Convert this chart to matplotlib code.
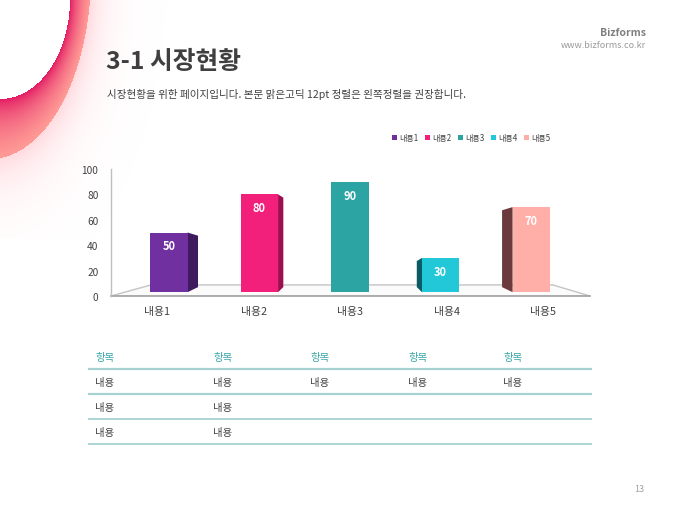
import numpy as np
import matplotlib
matplotlib.use("Agg")
import matplotlib.pyplot as plt
from matplotlib.patches import Polygon, Patch

plt.rcParams['font.family'] = ['Noto Sans CJK KR', 'DejaVu Sans']

# chart data
categories = ["내용1", "내용2", "내용3", "내용4", "내용5"]
values = [50, 80, 90, 30, 70]
front_colors = ["#7030A0", "#F21F7B", "#2CA4A4", "#22C8D8", "#FFAFA8"]
side_colors = ["#3E1A5E", "#9C0F4E", "#1E7E7E", "#0A5B63", "#6A3A3C"]
y_ticks = [0, 20, 40, 60, 80, 100]

# table data
table_header = ["항목", "항목", "항목", "항목", "항목"]
table_rows = [
    ["내용", "내용", "내용", "내용", "내용"],
    ["내용", "내용", "", "", ""],
    ["내용", "내용", "", "", ""],
]

title = "3-1 시장현황"
subtitle = "시장현황을 위한 페이지입니다. 본문 맑은고딕 12pt 정렬은 왼쪽정렬을 권장합니다."

fig = plt.figure(figsize=(6.8, 5.1), dpi=100)
fig.patch.set_facecolor("white")

# background layer in pixel coordinates
bg = fig.add_axes([0, 0, 1, 1])
bg.set_xlim(0, 680)
bg.set_ylim(510, 0)
bg.axis("off")

# pink swoosh in the top-left corner
W, H = 200, 240
xx, yy = np.meshgrid(np.arange(W) + 0.5, np.arange(H) + 0.5)
r_in = np.sqrt((xx / 70.0) ** 2 + (yy / 100.0) ** 2)
r_out = np.sqrt(((xx + 10) / 101.0) ** 2 + ((yy + 25) / 185.0) ** 2)
img = np.ones((H, W, 4))
img[..., 3] = 0
band = (r_in > 1) & (r_out < 1)
t = np.clip((r_in - 1) / ((r_in - 1) + (1 - r_out) + 1e-9), 0, 1)
c0 = np.array([226, 24, 98]) / 255.0
c1 = np.array([255, 155, 150]) / 255.0
for k in range(3):
    img[..., k] = np.where(band, c0[k] + (c1[k] - c0[k]) * t ** 0.8, img[..., k])
img[..., 3] = np.where(band, 1.0, 0)
glow = (r_out >= 1) & (r_in > 1)
ga = 0.45 * np.exp(-(r_out - 1) / 0.16)
for k, v in enumerate([255 / 255.0, 175 / 255.0, 185 / 255.0]):
    img[..., k] = np.where(glow, v, img[..., k])
img[..., 3] = np.where(glow, ga, img[..., 3])
bg.imshow(img, extent=(0, W, H, 0), aspect="auto", zorder=0, interpolation="bilinear")
bg.set_xlim(0, 680)
bg.set_ylim(510, 0)

# header texts
bg.text(106, 62, title, fontsize=17.8, fontweight="bold", color="#3F3F3F", va="center", ha="left")
bg.text(107, 94, subtitle, fontsize=7.6, color="#404040", va="center", ha="left")
bg.text(646, 33, "Bizforms", fontsize=7.5, fontweight="bold", color="#7F7F7F", va="center", ha="right")
bg.text(646, 46, "www.bizforms.co.kr", fontsize=6.5, color="#9A9A9A", va="center", ha="right")
bg.text(644, 490, "13", fontsize=6.5, color="#A0A0A0", va="center", ha="right")

# table
col_x = [95, 213, 310, 408, 503]
for x, h in zip(col_x, table_header):
    bg.text(x, 358, h, fontsize=7.5, color="#3AA6A6", va="center", ha="left")
line_y = [370, 395, 420, 445]
for i, y in enumerate(line_y):
    bg.plot([88, 592], [y, y], color="#A6D2D2", lw=1.6 if i < 2 else 1.3, solid_capstyle="butt")
for r, row in enumerate(table_rows):
    for x, cell in zip(col_x, row):
        bg.text(x, 383 + 25 * r, cell, fontsize=7.5, color="#404040", va="center", ha="left")

# chart axes
ax = fig.add_axes([111 / 680, 213 / 510, 479 / 680, 127 / 510])
ax.set_xlim(-0.64, 4.65)
ax.set_ylim(0, 100)
ax.patch.set_alpha(0)
for s in ["top", "right", "bottom"]:
    ax.spines[s].set_visible(False)
ax.spines["left"].set_color("#BFBFBF")
ax.spines["left"].set_linewidth(1.0)
ax.set_yticks(y_ticks)
ax.tick_params(axis="y", length=0, pad=9, labelsize=7.3, labelcolor="#404040")
ax.set_xticks([])

# floor
floor = Polygon([(-0.64, 0), (-0.2, 8.7), (4.24, 8.7), (4.65, 0)], closed=True,
                facecolor="#FBFBFB", edgecolor="#C4C4C4", lw=1.0, zorder=1)
ax.add_patch(floor)
ax.plot([-0.64, 4.65], [0, 0], color="#A8A8A8", lw=1.3, zorder=2, clip_on=False)

bw = 0.41
base = 3.0
n = len(values)
mid = (n - 1) / 2.0
for i, (v, fc, sc) in enumerate(zip(values, front_colors, side_colors)):
    left = i - bw / 2
    right = i + bw / 2
    depth = abs(i - mid) * 0.058
    if i < mid:
        side = [(right, base), (right + depth, base + 4), (right + depth, v - 2.5), (right, v)]
    elif i > mid:
        side = [(left, base), (left - depth, base + 4), (left - depth, v - 2.5), (left, v)]
    else:
        side = None
    if side is not None:
        ax.add_patch(Polygon(side, closed=True, facecolor=sc, edgecolor="none", zorder=3))
    ax.bar(i, v - base, bottom=base, width=bw, color=fc, zorder=4)
    ax.text(i, v - 10.5, str(v), ha="center", va="center", fontsize=8,
            fontweight="bold", color="white", zorder=5)
    ax.text(i + (i - mid) * 0.066, -11.5, categories[i], ha="center", va="center",
            fontsize=7.8, color="#404040", clip_on=False)

handles = [Patch(facecolor=c, edgecolor="none", label=l) for c, l in zip(front_colors, categories)]
fig.legend(handles=handles, loc="center", bbox_to_anchor=(471 / 680, 1 - 139 / 510), ncol=5,
           frameon=False, fontsize=5.8, handlelength=0.6, handleheight=0.6,
           handletextpad=0.3, columnspacing=0.8, labelcolor="#404040")

fig.savefig("out.png", dpi=100)
